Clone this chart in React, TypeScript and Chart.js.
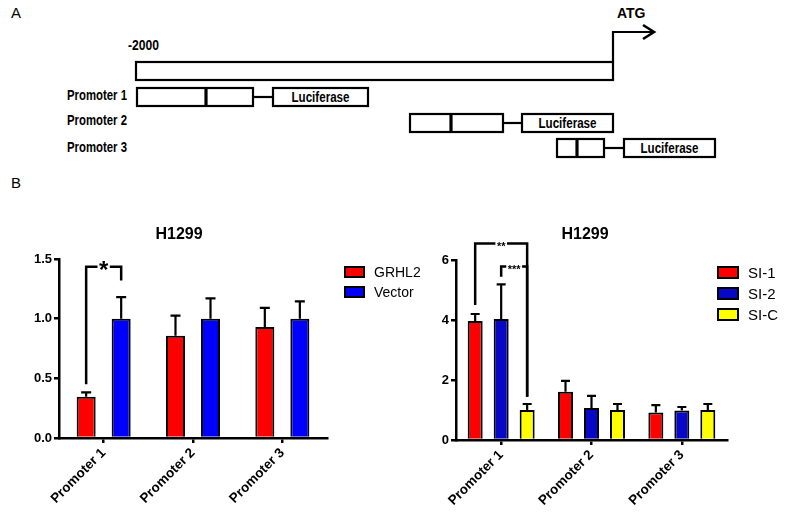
import React, { useEffect, useRef } from "react";
import { Chart, registerables } from "chart.js";

Chart.register(...registerables);

const FONT = "'Liberation Sans', Arial, sans-serif";

// ---------- Panel B, left chart (H1299, GRHL2 vs Vector) ----------
const categories = ["Promoter 1", "Promoter 2", "Promoter 3"];
const grhl2Values = [0.345, 0.857, 0.93];
const grhl2Errors = [0.037, 0.168, 0.16];
const vectorValues = [1.0, 1.0, 1.0];
const vectorErrors = [0.18, 0.17, 0.145];
const leftTickValues = [0, 0.5, 1.0, 1.5];
const leftLegend = ["GRHL2", "Vector"];

// ---------- Panel B, right chart (H1299, siRNA) ----------
const si1Values = [3.97, 1.61, 0.92];
const si1Errors = [0.23, 0.36, 0.24];
const si2Values = [4.03, 1.07, 0.98];
const si2Errors = [1.16, 0.4, 0.12];
const siCValues = [1.0, 1.0, 1.0];
const siCErrors = [0.2, 0.2, 0.2];
const rightTickValues = [0, 2, 4, 6];
const rightLegend = ["SI-1", "SI-2", "SI-C"];

// significance brackets: dataset indices, category index, levels (data units)
const leftBrackets = [
  { from: 0, to: 1, group: 0, top: 1.435, fromEnd: 0.45, toEnd: 1.32, label: "*", size: 24, lift: 0.47 },
];
const rightBrackets = [
  { from: 0, to: 2, group: 0, top: 6.55, fromEnd: 4.5, toEnd: 1.44, label: "**", size: 11, lift: 0.62 },
  { from: 1, to: 2, group: 0, top: 5.78, fromEnd: 5.44, toEnd: 1.44, label: "***", size: 11, lift: 0.62 },
];

const chartTitle = "H1299";

type Bracket = { from: number; to: number; group: number; top: number; fromEnd: number; toEnd: number; label: string; size: number; lift: number };

type OverlayOpts = {
  errors: number[][];
  cap: number;
  brackets: Bracket[];
  legend: { label: string; color: string }[];
  legendX: number;
  legendY: number;
  legendStep: number;
  legendFont: number;
  boxW: number;
  boxH: number;
  titleX: number;
  titleY: number;
};

function overlayPlugin(o: OverlayOpts) {
  return {
    id: "overlay",
    afterDatasetsDraw(chart: any) {
      const ctx = chart.ctx;
      const ys = chart.scales.y;
      ctx.save();
      ctx.strokeStyle = "#000";
      ctx.lineWidth = 2.2;
      chart.data.datasets.forEach((ds: any, di: number) => {
        const meta = chart.getDatasetMeta(di);
        const errs = o.errors[di];
        meta.data.forEach((bar: any, i: number) => {
          const v = ds.data[i] as number;
          const yTop = ys.getPixelForValue(v + errs[i]);
          const p = bar.getProps(["x", "y"], true);
          ctx.beginPath();
          ctx.moveTo(p.x, p.y);
          ctx.lineTo(p.x, yTop);
          ctx.moveTo(p.x - o.cap / 2, yTop);
          ctx.lineTo(p.x + o.cap / 2, yTop);
          ctx.stroke();
        });
      });
      ctx.restore();
    },
    afterDraw(chart: any) {
      const ctx = chart.ctx;
      const ys = chart.scales.y;
      ctx.save();
      ctx.strokeStyle = "#000";
      ctx.fillStyle = "#000";
      ctx.lineWidth = 2.5;
      ctx.lineJoin = "miter";
      for (const b of o.brackets) {
        const xa = chart.getDatasetMeta(b.from).data[b.group].x;
        const xb = chart.getDatasetMeta(b.to).data[b.group].x;
        const yt = ys.getPixelForValue(b.top);
        const ya = ys.getPixelForValue(b.fromEnd);
        const yb = ys.getPixelForValue(b.toEnd);
        ctx.font = `bold ${b.size}px ${FONT}`;
        const tw = ctx.measureText(b.label).width;
        const mid = (xa + xb) / 2;
        ctx.beginPath();
        ctx.moveTo(xa, ya);
        ctx.lineTo(xa, yt);
        ctx.lineTo(mid - tw / 2 - 1.5, yt);
        ctx.moveTo(mid + tw / 2 + 1.5, yt);
        ctx.lineTo(xb, yt);
        ctx.lineTo(xb, yb);
        ctx.stroke();
        ctx.textAlign = "center";
        ctx.textBaseline = "alphabetic";
        ctx.fillText(b.label, mid, yt + b.size * b.lift);
      }
      // legend
      ctx.lineWidth = 2;
      o.legend.forEach((item, i) => {
        const y = o.legendY + i * o.legendStep;
        ctx.fillStyle = item.color;
        ctx.fillRect(o.legendX, y, o.boxW, o.boxH);
        ctx.strokeRect(o.legendX, y, o.boxW, o.boxH);
        ctx.fillStyle = "#000";
        ctx.font = `${o.legendFont}px ${FONT}`;
        ctx.textAlign = "left";
        ctx.textBaseline = "middle";
        ctx.fillText(item.label, o.legendX + o.boxW + 10, y + o.boxH / 2 + 1);
      });
      // title
      ctx.font = `bold 16px ${FONT}`;
      ctx.textAlign = "center";
      ctx.textBaseline = "middle";
      ctx.fillText(chartTitle, o.titleX, o.titleY);
      ctx.restore();
    },
  };
}

function scales(ticks: number[], fmt: (v: number) => string, yWidth: number, xHeight: number) {
  return {
    x: {
      type: "category",
      offset: true,
      grid: { display: true, offset: false, drawOnChartArea: false, drawTicks: true, tickLength: 5, color: "#000", lineWidth: 2.5 },
      border: { display: true, color: "#000", width: 2.5 },
      ticks: {
        color: "#000",
        font: { family: FONT, size: 13.5, weight: "bold" },
        minRotation: 45,
        maxRotation: 45,
        autoSkip: false,
        padding: 2,
      },
      afterFit: (s: any) => {
        s.height = xHeight;
      },
    },
    y: {
      type: "linear",
      min: ticks[0],
      max: ticks[ticks.length - 1],
      afterBuildTicks: (s: any) => {
        s.ticks = ticks.map((value) => ({ value }));
      },
      grid: { display: true, drawOnChartArea: false, drawTicks: true, tickLength: 5, color: "#000", lineWidth: 2.5 },
      border: { display: true, color: "#000", width: 2.5 },
      ticks: {
        color: "#000",
        font: { family: FONT, size: 13, weight: "bold" },
        padding: 2,
        callback: (v: any) => fmt(Number(v)),
      },
      afterFit: (s: any) => {
        s.width = yWidth;
      },
    },
  };
}

function bar(label: string, data: number[], color: string, bp: number, cp: number) {
  return {
    label,
    data,
    backgroundColor: color,
    borderColor: "#000",
    borderWidth: 2,
    borderSkipped: "start",
    barPercentage: bp,
    categoryPercentage: cp,
  };
}

const W = 787;
const H = 338;

function NarrowText(props: { x: number; y: number; w: number; anchor?: string; children: string }) {
  return (
    <text
      x={props.x}
      y={props.y}
      textAnchor={props.anchor || "start"}
      textLength={props.w}
      lengthAdjust="spacingAndGlyphs"
      style={{ fontFamily: FONT, fontWeight: 700, fontSize: 14 }}
    >
      {props.children}
    </text>
  );
}

export default function App() {
  const leftRef = useRef<HTMLCanvasElement>(null);
  const rightRef = useRef<HTMLCanvasElement>(null);

  useEffect(() => {
    document.body.style.margin = "0";
    const red = "#ff0000";
    const blue = "#0000ff";
    const darkBlue = "#0808c8";
    const yellow = "#ffff00";

    const left = new Chart(leftRef.current!, {
      type: "bar",
      data: {
        labels: categories,
        datasets: [
          bar(leftLegend[0], grhl2Values, red, 0.543, 0.784),
          bar(leftLegend[1], vectorValues, blue, 0.543, 0.784),
        ],
      },
      options: {
        responsive: false,
        maintainAspectRatio: false,
        animation: false,
        devicePixelRatio: 1,
        layout: { padding: { left: 19, right: W - 327, top: 79, bottom: 0 } },
        plugins: { legend: { display: false }, tooltip: { enabled: false }, title: { display: false } },
        scales: scales(leftTickValues, (v) => v.toFixed(1), 40, 80) as any,
      } as any,
      plugins: [
        overlayPlugin({
          errors: [grhl2Errors, vectorErrors],
          cap: 10,
          brackets: leftBrackets,
          legend: [
            { label: leftLegend[0], color: red },
            { label: leftLegend[1], color: blue },
          ],
          legendX: 345,
          legendY: 87,
          legendStep: 20,
          legendFont: 14,
          boxW: 19,
          boxH: 10,
          titleX: 179,
          titleY: 55,
        }),
      ],
    } as any);

    const right = new Chart(rightRef.current!, {
      type: "bar",
      data: {
        labels: categories,
        datasets: [
          bar(rightLegend[0], si1Values, red, 0.577, 0.863),
          bar(rightLegend[1], si2Values, darkBlue, 0.577, 0.863),
          bar(rightLegend[2], siCValues, yellow, 0.577, 0.863),
        ],
      },
      options: {
        responsive: false,
        maintainAspectRatio: false,
        animation: false,
        devicePixelRatio: 1,
        layout: { padding: { left: 416, right: W - 727, top: 80, bottom: 0 } },
        plugins: { legend: { display: false }, tooltip: { enabled: false }, title: { display: false } },
        scales: scales(rightTickValues, (v) => String(v), 40, 78) as any,
      } as any,
      plugins: [
        overlayPlugin({
          errors: [si1Errors, si2Errors, siCErrors],
          cap: 9,
          brackets: rightBrackets,
          legend: [
            { label: rightLegend[0], color: red },
            { label: rightLegend[1], color: darkBlue },
            { label: rightLegend[2], color: yellow },
          ],
          legendX: 718,
          legendY: 87,
          legendStep: 21,
          legendFont: 15,
          boxW: 20,
          boxH: 11,
          titleX: 585,
          titleY: 55,
        }),
      ],
    } as any);

    return () => {
      left.destroy();
      right.destroy();
    };
  }, []);

  const sw = 2.2;

  return (
    <div style={{ position: "relative", width: W, height: 518, background: "#fff", overflow: "hidden" }}>
      <svg width={W} height={518} style={{ position: "absolute", left: 0, top: 0 }}>
        <text x={11} y={18} textLength={10} lengthAdjust="spacingAndGlyphs" style={{ fontFamily: FONT, fontSize: 14 }}>A</text>
        <text x={11} y={188} textLength={10} lengthAdjust="spacingAndGlyphs" style={{ fontFamily: FONT, fontSize: 14 }}>B</text>
        <text x={617} y={18} style={{ fontFamily: FONT, fontWeight: 700, fontSize: 14 }}>ATG</text>
        <NarrowText x={128} y={50} w={31}>-2000</NarrowText>
        <g fill="none" stroke="#000" strokeWidth={sw}>
          <rect x={136} y={62} width={477} height={18} />
          <path d="M613,62 V32 H654" />
          <path d="M643,25 L654,32 L643,39" strokeWidth={2.6} />
          {/* promoter 1 */}
          <rect x={137} y={88} width={116} height={18} />
          <line x1={206} y1={88} x2={206} y2={106} strokeWidth={3.2} />
          <line x1={253} y1={97} x2={273} y2={97} />
          <rect x={273} y={88} width={95} height={18} />
          {/* promoter 2 */}
          <rect x={410} y={114} width={93} height={18} />
          <line x1={451} y1={114} x2={451} y2={132} strokeWidth={3.2} />
          <line x1={503} y1={123} x2={522} y2={123} />
          <rect x={522} y={114} width={91} height={18} />
          {/* promoter 3 */}
          <rect x={557} y={139} width={47} height={18} />
          <line x1={577} y1={139} x2={577} y2={157} strokeWidth={3.2} />
          <line x1={604} y1={148} x2={624} y2={148} />
          <rect x={624} y={139} width={91} height={18} />
        </g>
        <NarrowText x={67} y={100} w={60}>Promoter 1</NarrowText>
        <NarrowText x={67} y={125} w={60}>Promoter 2</NarrowText>
        <NarrowText x={67} y={152} w={60}>Promoter 3</NarrowText>
        <NarrowText x={320.5} y={102} w={58} anchor="middle">Luciferase</NarrowText>
        <NarrowText x={567.5} y={128} w={58} anchor="middle">Luciferase</NarrowText>
        <NarrowText x={669.5} y={153} w={58} anchor="middle">Luciferase</NarrowText>
      </svg>
      <canvas ref={leftRef} width={W} height={H} style={{ position: "absolute", left: 0, top: 180, width: W, height: H }} />
      <canvas ref={rightRef} width={W} height={H} style={{ position: "absolute", left: 0, top: 180, width: W, height: H }} />
    </div>
  );
}
